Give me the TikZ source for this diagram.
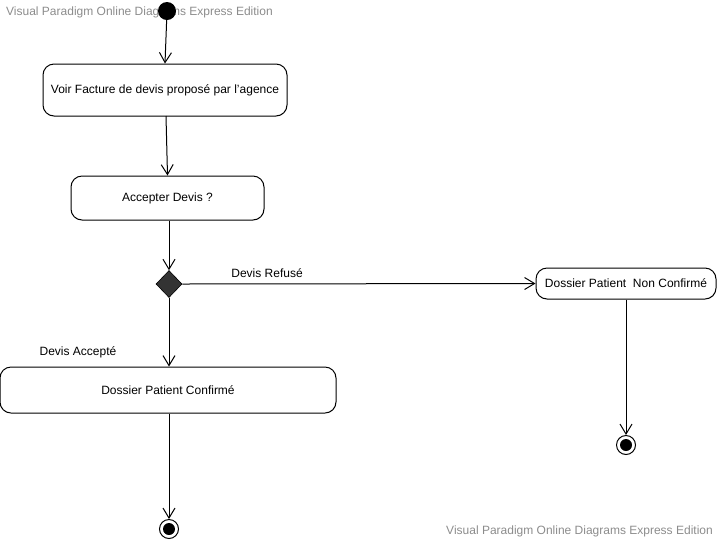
\documentclass[tikz,border=0pt]{standalone}
\usepackage{fontspec}
\setmainfont{Liberation Sans}
\usetikzlibrary{arrows.meta,shapes.geometric}
\definecolor{wm}{HTML}{8C8C8C}
\definecolor{dia}{HTML}{333333}
\begin{document}
\begin{tikzpicture}[x=1pt,y=-1pt,
  act/.style={draw,line width=1pt,rounded corners=11pt,inner sep=0pt,font=\fontsize{12}{14}\selectfont},
  flow/.style={draw,line width=1pt,-{Straight Barb[length=10pt,width=12pt,line width=1pt]}},
  lbl/.style={font=\fontsize{12}{14}\selectfont},
  wmark/.style={text=wm,font=\fontsize{12}{14}\selectfont,inner sep=0pt},
  startnode/.style={circle,fill=black,minimum size=18pt,inner sep=0pt},
  endouter/.style={circle,draw,line width=1pt,minimum size=19pt,inner sep=0pt},
  endinner/.style={circle,fill=black,minimum size=12pt,inner sep=0pt}]
\useasboundingbox (0,0) rectangle (719,542);
\node[wmark,anchor=west] (wm1) at (6,12) {Visual Paradigm Online Diagrams Express Edition};
\node[wmark,anchor=east] (wm2) at (713,531) {Visual Paradigm Online Diagrams Express Edition};

\node[startnode] (start) at (167,11) {};
\node[act,minimum width=244pt,minimum height=52pt] (b1) at (165,90) {Voir Facture de devis proposé par l'agence};
\node[act,minimum width=193pt,minimum height=44pt] (b2) at (167.5,198) {Accepter Devis ?};
\node[diamond,fill=dia,draw=black,line width=0.6pt,minimum width=26pt,minimum height=27pt,inner sep=0pt] (d) at (169,284) {};
\node[act,minimum width=180pt,minimum height=31pt] (b3) at (626,283.5) {Dossier Patient\ \ Non Confirmé};
\node[act,minimum width=336pt,minimum height=46pt] (b4) at (168,390) {Dossier Patient Confirmé};
\node[endouter] (e1) at (626,445) {};
\node[endinner] at (e1) {};
\node[endouter] (e2) at (169,529) {};
\node[endinner] at (e2) {};

\draw[flow] (start) -- (b1.north);
\draw[flow] (166,116) -- (b2.north);
\draw[flow] (b2.south -| d) -- (d.north);
\draw[flow] (d.east) -- (b3.west) node[lbl,pos=0.24,above=2pt] {Devis Refusé};
\draw[flow] (d.south) -- (b4.north -| d) ;
\node[lbl] (la) at (78,352) {Devis Accepté};
\draw[flow] (b3.south) -- (e1.north);
\draw[flow] (b4.south -| e2) -- (e2.north);
\end{tikzpicture}
\end{document}
